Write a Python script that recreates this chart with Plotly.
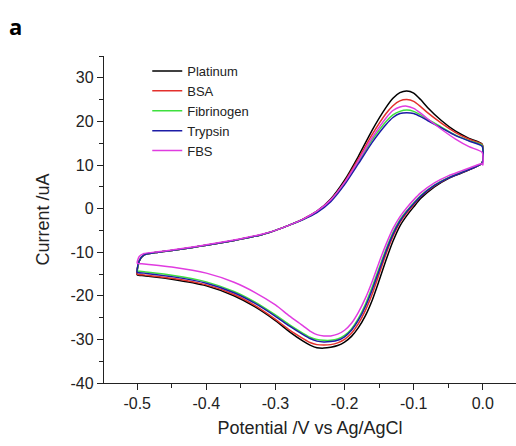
import plotly.graph_objects as go

# potential (V vs Ag/AgCl): forward scan -0.5 -> 0.0, then reverse 0.0 -> -0.5
potential = [-0.500, -0.497, -0.49, -0.47, -0.45, -0.42, -0.40, -0.37, -0.35, -0.32, -0.30, -0.28, -0.26,
             -0.24, -0.22, -0.20, -0.18, -0.16, -0.14, -0.13, -0.12, -0.11, -0.10, -0.09, -0.08,
             -0.06, -0.04, -0.02, -0.001,
             0.000, -0.002, -0.01, -0.03, -0.05, -0.07, -0.09, -0.10, -0.11, -0.12, -0.13, -0.14,
             -0.15, -0.16, -0.17, -0.18, -0.19, -0.20, -0.21, -0.22, -0.23, -0.24, -0.25, -0.26,
             -0.28, -0.30, -0.33, -0.36, -0.40, -0.45, -0.49, -0.500]

platinum = [-15.2, -12.0, -10.6, -10.0, -9.6, -8.9, -8.4, -7.6, -7.0, -6.0, -5.0, -3.8, -2.4,
            -0.6, 2.2, 6.5, 12.0, 18.0, 23.2, 25.3, 26.6, 27.0, 26.5, 25.0, 23.2,
            20.2, 17.8, 16.1, 14.8,
            11.0, 10.3, 9.6, 8.2, 6.9, 5.0, 2.3, 0.4, -1.6, -4.0, -7.5, -11.8,
            -16.5, -21.0, -24.6, -27.3, -29.3, -30.6, -31.4, -31.8, -32.0, -31.9, -31.3, -30.4,
            -28.2, -25.7, -22.5, -20.0, -17.7, -16.2, -15.4, -15.2]

bsa = [-15.0, -12.0, -10.6, -10.0, -9.6, -8.9, -8.4, -7.6, -7.0, -6.0, -5.0, -3.8, -2.4,
       -0.7, 2.0, 6.1, 11.4, 17.0, 21.8, 23.6, 24.7, 25.0, 24.6, 23.4, 22.0,
       19.6, 17.5, 15.9, 14.7,
       11.0, 10.3, 9.6, 8.3, 7.0, 5.2, 2.7, 0.9, -1.0, -3.2, -6.4, -10.4,
       -15.0, -19.6, -23.4, -26.4, -28.6, -30.0, -30.8, -31.2, -31.3, -31.2, -30.7, -29.8,
       -27.8, -25.4, -22.2, -19.7, -17.5, -16.0, -15.2, -15.0]

fibrinogen = [-14.4, -12.0, -10.6, -10.0, -9.6, -8.9, -8.4, -7.6, -7.0, -6.0, -5.0, -3.8, -2.5,
              -0.8, 1.8, 5.8, 10.8, 15.8, 20.0, 21.5, 22.3, 22.6, 22.3, 21.5, 20.5,
              18.7, 16.9, 15.6, 14.5,
              11.0, 10.3, 9.7, 8.4, 7.1, 5.4, 3.0, 1.3, -0.5, -2.6, -5.5, -9.3,
              -13.6, -18.0, -22.0, -25.2, -27.6, -29.1, -29.9, -30.2, -30.2, -30.0, -29.5, -28.6,
              -26.6, -24.4, -21.4, -19.0, -16.8, -15.3, -14.5, -14.3]

trypsin = [-14.6, -12.0, -10.6, -10.0, -9.6, -8.9, -8.4, -7.6, -7.0, -6.0, -5.0, -3.8, -2.5,
           -0.9, 1.6, 5.5, 10.3, 15.2, 19.3, 20.9, 21.8, 22.0, 21.8, 21.1, 20.2,
           18.5, 16.8, 15.5, 14.3,
           11.0, 10.3, 9.6, 8.3, 7.0, 5.3, 2.8, 1.1, -0.7, -2.9, -5.9, -9.8,
           -14.2, -18.6, -22.5, -25.6, -27.9, -29.4, -30.2, -30.5, -30.6, -30.4, -29.8, -28.9,
           -26.9, -24.7, -21.7, -19.3, -17.1, -15.6, -14.8, -14.6]

fbs = [-12.5, -11.0, -10.3, -9.9, -9.5, -8.8, -8.3, -7.5, -6.9, -5.9, -5.0, -3.8, -2.4,
       -0.6, 2.0, 6.0, 11.0, 16.3, 20.8, 22.5, 23.3, 23.5, 23.0, 21.9, 20.6,
       18.2, 16.0, 14.2, 12.9,
       10.0, 10.3, 9.9, 8.7, 7.5, 5.9, 3.6, 2.0, 0.2, -1.9, -4.6, -8.2,
       -12.3, -16.7, -20.6, -23.8, -26.3, -27.9, -28.8, -29.2, -29.2, -28.9, -28.1, -26.9,
       -24.6, -22.1, -19.2, -16.9, -14.8, -13.4, -12.7, -12.5]

names = ["Platinum", "BSA", "Fibrinogen", "Trypsin", "FBS"]
series = [platinum, bsa, fibrinogen, trypsin, fbs]
colors = ["#000000", "#e3302c", "#3ee03e", "#1c1ca6", "#e03ce0"]

x_ticks = [-0.5, -0.4, -0.3, -0.2, -0.1, 0.0]
x_labels = ["-0.5", "-0.4", "-0.3", "-0.2", "-0.1", "0.0"]
y_ticks = [-40, -30, -20, -10, 0, 10, 20, 30]
y_labels = ["-40", "-30", "-20", "-10", "0", "10", "20", "30"]

fig = go.Figure()
for name, vals, col in zip(names, series, colors):
    fig.add_trace(go.Scatter(x=potential, y=vals, mode="lines", name=name,
                             line=dict(color=col, width=1.5, shape="spline", smoothing=0.6)))

axis_common = dict(showgrid=False, zeroline=False, showline=True, linecolor="#222", linewidth=1.3,
                   ticks="outside", ticklen=6, tickwidth=1.3, tickcolor="#222", automargin=False,
                   tickfont=dict(size=16))

fig.update_layout(
    width=516, height=446,
    margin=dict(l=104, r=0, t=56, b=63),
    paper_bgcolor="white", plot_bgcolor="white",
    font=dict(family="Liberation Sans, Arial, sans-serif", size=15, color="#222"),
    showlegend=True,
    legend=dict(x=0.105, y=1.0, xanchor="left", yanchor="top",
                bgcolor="rgba(0,0,0,0)", font=dict(size=13), itemwidth=30, tracegroupgap=0),
    xaxis=dict(axis_common, range=[-0.548, 0.048], tickvals=x_ticks, ticktext=x_labels,
               minor=dict(dtick=0.05, tick0=0, ticks="outside", ticklen=4, tickcolor="#222"),
               title=dict(text="Potential /V vs Ag/AgCl", standoff=10)),
    yaxis=dict(axis_common, range=[-40, 35], tickvals=y_ticks, ticktext=y_labels,
               minor=dict(dtick=5, tick0=0, ticks="outside", ticklen=4, tickcolor="#222"),
               title=dict(text="Current /uA", standoff=16)),
)

fig.add_annotation(text="<b>a</b>", xref="paper", yref="paper", x=-0.235, y=1.093,
                   xanchor="left", yanchor="middle", showarrow=False,
                   font=dict(family="Open Sans, sans-serif", size=22, color="black"))

# page body has a default 8px margin; drop it so the figure fills the window
fig.write_html("out.html", config={"displayModeBar": False},
               post_script="document.body.style.margin='0px';")
